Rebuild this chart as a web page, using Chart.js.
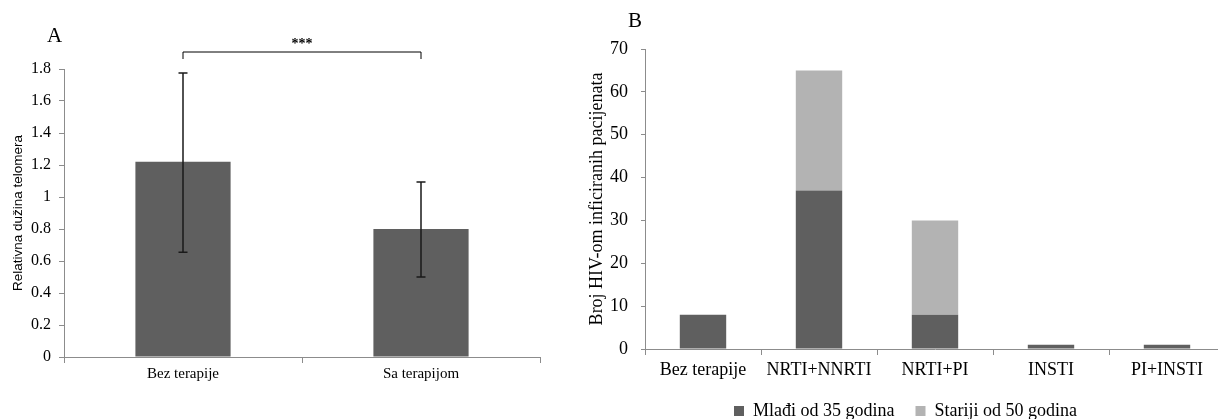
<!DOCTYPE html>
<html>
<head>
<meta charset="utf-8">
<script src="https://cdn.jsdelivr.net/npm/chart.js@4/dist/chart.umd.min.js"></script>
<style>
  body { margin: 0; background: #fff; width: 1218px; height: 419px; overflow: hidden; position: relative; }
  .box { position: absolute; }
  .lbl { position: absolute; font-family: "Liberation Serif", serif; font-size: 21px; line-height: 24px; color: #000; }
</style>
</head>
<body>
<div class="box" style="left:0;top:0;width:560px;height:400px"><canvas id="chartA" width="560" height="400"></canvas></div>
<div class="box" style="left:580px;top:0;width:660px;height:430px"><canvas id="chartB" width="660" height="430"></canvas></div>
<div class="lbl" style="left:47px;top:23px">A</div>
<div class="lbl" style="left:628px;top:8px">B</div>
<script>
// panel A
const groupsA = ["Bez terapije", "Sa terapijom"];
const meansA = [1.22, 0.80];
const errHighA = [1.775, 1.094];
const errLowA = [0.655, 0.50];
const yTicksA = ["0", "0.2", "0.4", "0.6", "0.8", "1", "1.2", "1.4", "1.6", "1.8"];

// panel B
const groupsB = ["Bez terapije", "NRTI+NNRTI", "NRTI+PI", "INSTI", "PI+INSTI"];
const younger = [8, 37, 8, 1, 1];
const older = [0, 28, 22, 0, 0];

const dark = "#5f5f5f";
const light = "#b3b3b3";
const axisGray = "#8c8c8c";
const serif = "'Liberation Serif', 'Times New Roman', serif";

const errorBars = {
  id: "errorBars",
  afterDatasetsDraw(chart) {
    const ctx = chart.ctx;
    const y = chart.scales.y;
    const meta = chart.getDatasetMeta(0);
    ctx.save();
    ctx.strokeStyle = "#1a1a1a";
    ctx.lineWidth = 1.5;
    meta.data.forEach((bar, i) => {
      const yt = y.getPixelForValue(errHighA[i]);
      const yb = y.getPixelForValue(errLowA[i]);
      ctx.beginPath();
      ctx.moveTo(bar.x, yt); ctx.lineTo(bar.x, yb);
      ctx.moveTo(bar.x - 4.5, yt); ctx.lineTo(bar.x + 4.5, yt);
      ctx.moveTo(bar.x - 4.5, yb); ctx.lineTo(bar.x + 4.5, yb);
      ctx.stroke();
    });
    // significance bracket
    const x1 = meta.data[0].x, x2 = meta.data[1].x;
    const top = 52;
    ctx.lineWidth = 1;
    ctx.strokeStyle = "#000";
    ctx.beginPath();
    ctx.moveTo(x1, top + 7); ctx.lineTo(x1, top); ctx.lineTo(x2, top); ctx.lineTo(x2, top + 7);
    ctx.stroke();
    ctx.fillStyle = "#000";
    ctx.font = "bold 14px " + serif;
    ctx.textAlign = "center";
    ctx.textBaseline = "middle";
    ctx.fillText("***", (x1 + x2) / 2, top - 8);
    ctx.restore();
  }
};

new Chart(document.getElementById("chartA"), {
  type: "bar",
  data: {
    labels: groupsA,
    datasets: [{ data: meansA, backgroundColor: dark, borderWidth: 0, categoryPercentage: 1, barPercentage: 0.40 }]
  },
  options: {
    responsive: false,
    animation: false,
    layout: { padding: { top: 69, right: 20, left: 10, bottom: 0 } },
    plugins: { legend: { display: false }, tooltip: { enabled: false } },
    scales: {
      x: {
        grid: { drawOnChartArea: false, color: axisGray, tickLength: 6 },
        border: { color: axisGray },
        ticks: { color: "#000", font: { family: serif, size: 15 }, padding: 2 },
        afterFit(s) { s.height = 43; }
      },
      y: {
        min: 0, max: 1.8,
        grid: { drawOnChartArea: false, color: axisGray, tickLength: 5 },
        border: { color: axisGray },
        ticks: { stepSize: 0.2, color: "#000", font: { family: serif, size: 16 }, padding: 8,
                 callback: (v, i) => yTicksA[i] },
        title: { display: true, text: "Relativna dužina telomera", color: "#000",
                 font: { family: "'Liberation Sans', Arial, sans-serif", size: 13.5 }, padding: 0 },
        afterFit(s) { s.width = 54; }
      }
    }
  },
  plugins: [errorBars]
});

new Chart(document.getElementById("chartB"), {
  type: "bar",
  data: {
    labels: groupsB,
    datasets: [
      { label: "Mlađi od 35 godina", data: younger, backgroundColor: dark, borderWidth: 0, categoryPercentage: 1, barPercentage: 0.40 },
      { label: "Stariji od 50 godina", data: older, backgroundColor: light, borderWidth: 0, categoryPercentage: 1, barPercentage: 0.40 }
    ]
  },
  options: {
    responsive: false,
    animation: false,
    layout: { padding: { top: 49, right: 15, left: 6, bottom: 0 } },
    plugins: {
      tooltip: { enabled: false },
      legend: {
        position: "bottom",
        labels: { color: "#000", font: { family: serif, size: 18 }, boxWidth: 10, boxHeight: 10, padding: 21 }
      }
    },
    scales: {
      x: {
        stacked: true,
        grid: { drawOnChartArea: false, color: axisGray, tickLength: 6 },
        border: { color: axisGray },
        ticks: { color: "#000", font: { family: serif, size: 18 }, padding: 4, maxRotation: 0, autoSkip: false },
        afterFit(s) { s.height = 32; }
      },
      y: {
        stacked: true,
        min: 0, max: 70,
        grid: { drawOnChartArea: false, color: axisGray, tickLength: 4 },
        border: { color: axisGray },
        ticks: { stepSize: 10, color: "#000", font: { family: serif, size: 18 }, padding: 13 },
        title: { display: true, text: "Broj HIV-om inficiranih pacijenata", color: "#000",
                 font: { family: serif, size: 18 }, padding: 0 },
        afterFit(s) { s.width = 59; }
      }
    }
  }
});
</script>
</body>
</html>
